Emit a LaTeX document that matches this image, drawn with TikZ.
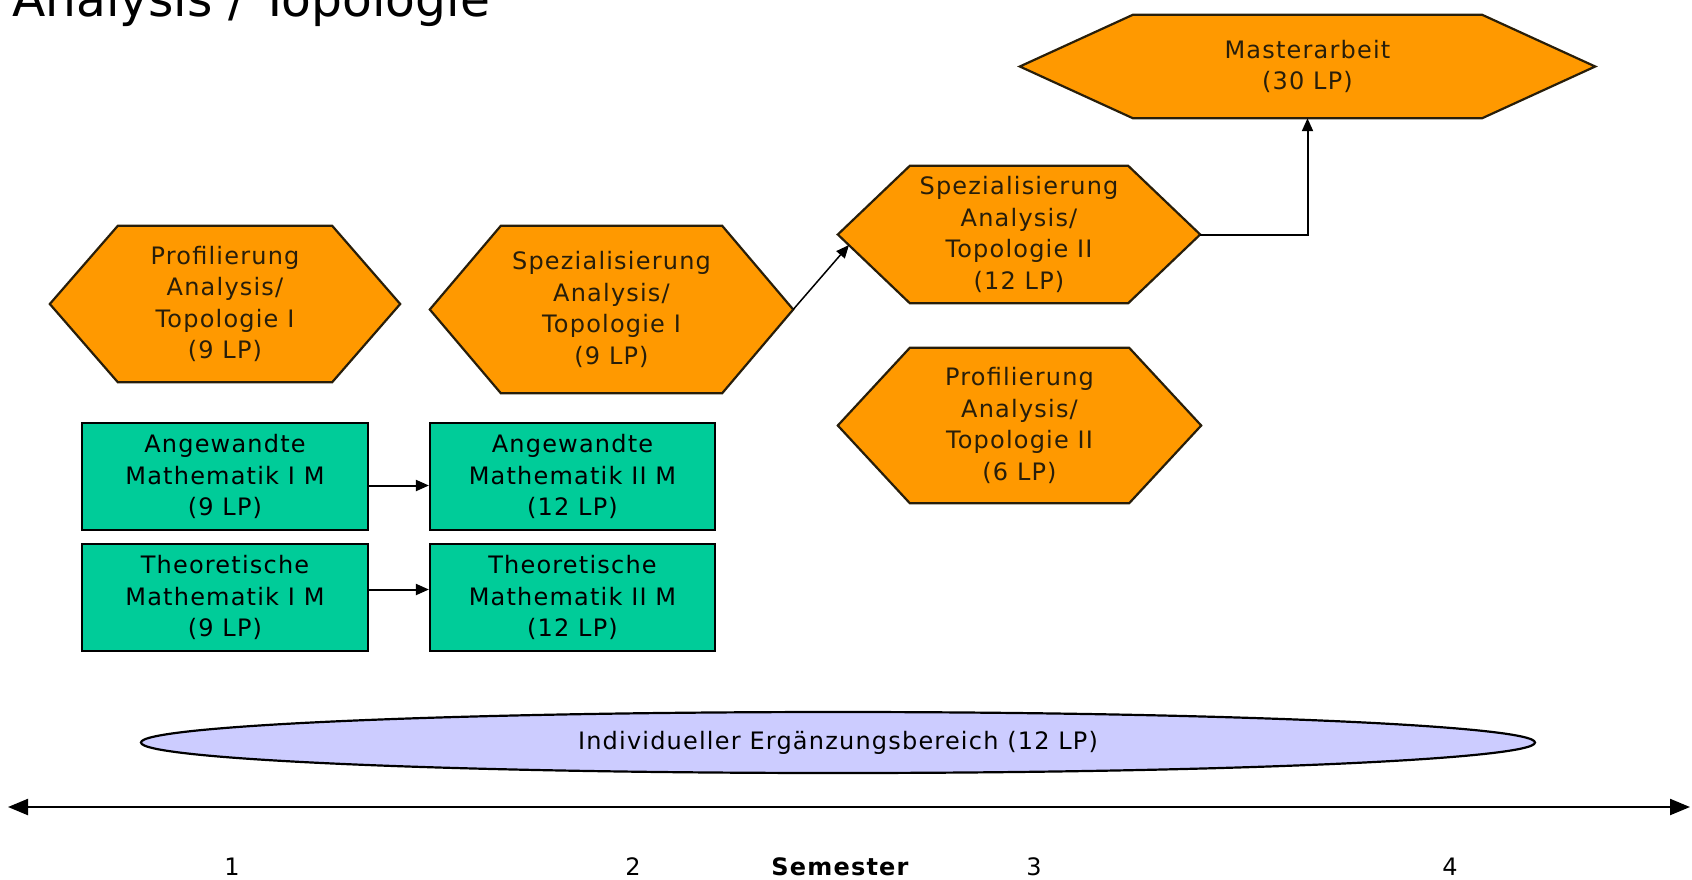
\documentclass[tikz,border=0pt]{standalone}
\usepackage{fontspec}
\setmainfont{DejaVu Sans}
\newfontfamily\labfont{DejaVu Sans}[LetterSpace=5]
\usetikzlibrary{arrows.meta,backgrounds,shapes.geometric}
\definecolor{hexorange}{RGB}{255,153,0}
\definecolor{boxgreen}{RGB}{0,204,153}
\definecolor{lavender}{RGB}{204,204,255}
\definecolor{edgedark}{RGB}{40,30,10}
\tikzset{
  hexbox/.style={rectangle, inner sep=0pt, align=center, text=edgedark,
    font=\labfont\fontsize{24}{31.5}\selectfont},
  hexshape/.style={fill=hexorange, draw=edgedark, line width=2.2pt, line join=miter},
  greenbox/.style={rectangle, draw=black, fill=boxgreen, line width=2.2pt, inner sep=0pt,
    minimum width=286pt, minimum height=107pt, align=center,
    font=\labfont\fontsize{24}{31.5}\selectfont},
  conn/.style={draw=black, line width=2pt, -{Triangle[length=13pt,width=11pt]}},
  semlabel/.style={anchor=base, font=\labfont\fontsize{24}{28}\selectfont},
}
\newcommand\hexpath[2]{%
  \path[hexshape] (#1.west) -- ([xshift=#2pt]#1.north west) -- ([xshift=-#2pt]#1.north east)
    -- (#1.east) -- ([xshift=-#2pt]#1.south east) -- ([xshift=#2pt]#1.south west) -- cycle;}
\begin{document}
\begin{tikzpicture}[x=1pt,y=-1pt]
\useasboundingbox (0,0) rectangle (1692,879);

% title
\node[anchor=base west, inner sep=0pt, font=\fontsize{48.7}{52}\selectfont] (title) at (12,16) {Analysis / Topologie};

% hexagons
\node[hexbox, minimum width=575pt, minimum height=103pt] (ma) at (1307.5,66.5)
  {Masterarbeit\\(30 LP)};
\node[hexbox, minimum width=362pt, minimum height=137pt] (spII) at (1019,234.5)
  {Spezialisierung\\Analysis/\\Topologie II\\(12 LP)};
\node[hexbox, minimum width=363pt, minimum height=155pt] (prII) at (1019.5,425.5)
  {Profilierung\\Analysis/\\Topologie II\\(6 LP)};
\node[hexbox, minimum width=350pt, minimum height=156pt] (prI) at (225,304)
  {Profilierung\\Analysis/\\Topologie I\\(9 LP)};
\node[hexbox, minimum width=363pt, minimum height=167pt] (spI) at (611.5,309.5)
  {Spezialisierung\\Analysis/\\Topologie I\\(9 LP)};

\begin{scope}[on background layer]
  \hexpath{ma}{113}
  \hexpath{spII}{72}
  \hexpath{prII}{72}
  \hexpath{prI}{68}
  \hexpath{spI}{71}
\end{scope}

% green boxes
\node[greenbox] (a1) at (225,476.5) {Angewandte\\Mathematik I M\\(9 LP)};
\node[greenbox, minimum width=285pt] (a2) at (572.5,476.5) {Angewandte\\Mathematik II M\\(12 LP)};
\node[greenbox] (t1) at (225,597.5) {Theoretische\\Mathematik I M\\(9 LP)};
\node[greenbox, minimum width=285pt] (t2) at (572.5,597.5) {Theoretische\\Mathematik II M\\(12 LP)};

% ellipse
\node[ellipse, draw=black, fill=lavender, line width=2.2pt, minimum width=1394pt, minimum height=61pt,
  inner sep=0pt, font=\labfont\fontsize{24}{28}\selectfont] (ie) at (838,742.5)
  {Individueller Ergänzungsbereich (12 LP)};

% connectors
\draw[conn] ([yshift=-9pt]a1.east) -- ([yshift=-9pt]a2.west);
\draw[conn] ([yshift=8pt]t1.east) -- ([yshift=8pt]t2.west);
\coordinate (spIIin) at (849,245);
\draw[draw=black, line width=1.5pt, -{Triangle[length=13pt,width=11pt]}] (spI.east) -- (spIIin);
\draw[conn] (spII.east) -| (ma.south);

% semester axis
\coordinate (axL) at (8,807);
\coordinate (axR) at (1690,807);
\draw[line width=2.2pt, {Triangle[length=20pt,width=16pt]}-{Triangle[length=20pt,width=16pt]}] (axL) -- (axR);

\node[semlabel] (s1) at (232,875) {1};
\node[semlabel] (s2) at (633,875) {2};
\node[semlabel, font=\labfont\bfseries\fontsize{24}{28}\selectfont] (sem) at (840,875) {Semester};
\node[semlabel] (s3) at (1034,875) {3};
\node[semlabel] (s4) at (1450,875) {4};
\end{tikzpicture}
\end{document}
